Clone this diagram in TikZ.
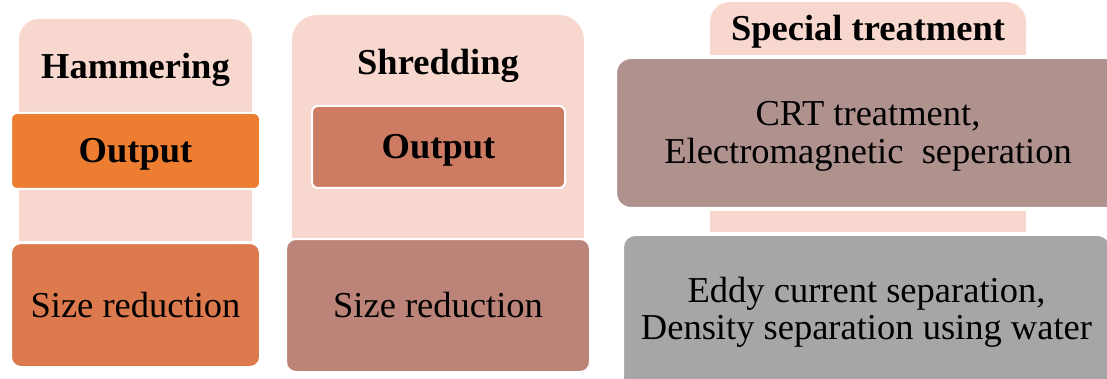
\documentclass[tikz,border=0pt]{standalone}
\usepackage{fontspec}
\setmainfont{Liberation Serif}
\definecolor{peach}{HTML}{F8D8CE}
\definecolor{hamout}{HTML}{ED7D31}
\definecolor{hamsize}{HTML}{DC7A4E}
\definecolor{shrout}{HTML}{CD7B62}
\definecolor{shrsize}{HTML}{BC8478}
\definecolor{crtbox}{HTML}{AF918E}
\definecolor{eddybox}{HTML}{A6A6A6}

\begin{document}
\begin{tikzpicture}[x=1pt,y=-1pt,
  every node/.style={inner sep=0pt,font=\fontsize{36.5}{37.5}\selectfont},
  box/.style={draw=white,line width=2pt,align=center},
  onebox/.style={box,text height=24pt,text depth=0pt},
  title/.style={anchor=base,font=\fontsize{36.5}{37.5}\selectfont\bfseries}]
  \useasboundingbox (0,0) rectangle (1107,379);
  % peach backgrounds, round on top only
  \foreach \xa/\ya/\xb/\yb/\r in {19/19/252/241/20,292/15/584/238/25,710/2/1026/55/20}{
    \fill[peach,rounded corners=\r] (\xa,\ya) rectangle (\xb,\yb);
    \fill[peach] (\xa,\ya+\r) rectangle (\xb,\yb);
  }
  \fill[peach] (710,211) rectangle (1026,232);
  % titles
  \node[title] (hammer) at (135.5,79) {Hammering};
  \node[title] (shred) at (438,75) {Shredding};
  \node[title] (special) at (868,41) {Special treatment};
  % boxes
  \node[onebox,fill=hamout,rounded corners=6,minimum width=249,minimum height=76,
    font=\fontsize{36.5}{37.5}\selectfont\bfseries] (hamout) at (135.5,151) {Output};
  \node[onebox,fill=hamsize,rounded corners=10,minimum width=249,minimum height=124]
    (hamsize) at (135.5,305) {Size reduction};
  \node[onebox,fill=shrout,rounded corners=6,minimum width=253,minimum height=82,
    font=\fontsize{36.5}{37.5}\selectfont\bfseries] (shrout) at (438.5,147) {Output};
  \node[onebox,fill=shrsize,rounded corners=10,minimum width=304,minimum height=133]
    (shrsize) at (438,305.5) {Size reduction};
  \node[box,fill=crtbox,rounded corners=15,minimum width=504,minimum height=150,
    text height=68pt] (crt) at (868,133) {CRT treatment,\\Electromagnetic\ \ seperation};
  \node[box,fill=eddybox,rounded corners=12,minimum width=487,minimum height=155]
    (eddy) at (866.5,312.5) {Eddy current separation,\\Density separation using water};
\end{tikzpicture}
\end{document}
